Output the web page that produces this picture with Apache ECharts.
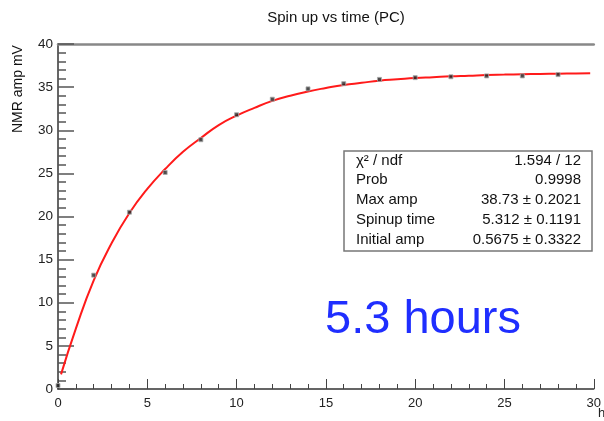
<!DOCTYPE html>
<html><head><meta charset="utf-8">
<script src="https://cdn.jsdelivr.net/npm/echarts@6/dist/echarts.min.js"></script>
<style>html,body{margin:0;padding:0;background:#fff}#c{width:604px;height:421px}</style>
</head><body><div id="c"></div>
<script>
// measured data points (time in hours, NMR amplitude in mV)
const timeHours = [0, 2, 4, 6, 8, 10, 12, 14, 16, 18, 20, 22, 24, 26, 28];
const amplitude = [0.4, 13.2, 20.5, 25.1, 28.9, 31.8, 33.6, 34.8, 35.4, 35.9, 36.1, 36.2, 36.3, 36.3, 36.45];
// fit curve
const fitTime = [0.17, 1, 2, 3, 4, 5, 6, 7, 8, 9, 10, 11, 12, 13, 14, 15, 16, 17, 18, 19, 20, 21, 22, 23, 24, 25, 26, 27, 28, 29, 29.8];
const fitAmp = [1.7, 7.0, 12.6, 16.9, 20.4, 23.2, 25.5, 27.5, 29.1, 30.6, 31.7, 32.6, 33.4, 34.0, 34.5, 34.9, 35.25, 35.5, 35.75, 35.9, 36.05, 36.15, 36.25, 36.32, 36.4, 36.45, 36.5, 36.53, 36.56, 36.58, 36.6];
const xTicks = [0, 5, 10, 15, 20, 25, 30];
const yTicks = [0, 5, 10, 15, 20, 25, 30, 35, 40];
const statLabels = ["χ² / ndf", "Prob", "Max amp", "Spinup time", "Initial amp"];
const statValues = ["1.594 / 12", "0.9998", "38.73 ± 0.2021", "5.312 ± 0.1191", "0.5675 ± 0.3322"];
const titleText = "Spin up vs time (PC)";
const yName = "NMR amp mV";
const xName = "h";
const noteText = "5.3 hours";

const font = "'Liberation Sans', Arial, sans-serif";
const chart = echarts.init(document.getElementById('c'), null, {renderer: 'canvas'});

const statGraphics = [];
statLabels.forEach((s, i) => {
  const y = 162 + i * 19.8;
  statGraphics.push({type: 'text', left: 356, top: y - 9, z: 20,
    style: {text: s, font: '15px ' + font, fill: '#111'}});
  statGraphics.push({type: 'text', right: 604 - 581, top: y - 9, z: 20,
    style: {text: statValues[i], font: '15px ' + font, fill: '#111', textAlign: 'right'}});
});

chart.setOption({
  animation: false,
  backgroundColor: '#fff',
  title: {text: titleText, left: 331, top: 5, textAlign: 'center',
    textStyle: {fontFamily: font, fontSize: 15, fontWeight: 'normal', color: '#111'}},
  grid: {left: 58, right: 10, top: 44, bottom: 32},
  xAxis: [{
    type: 'value', min: 0, max: 30, interval: 5, splitNumber: 6,
    axisLine: {lineStyle: {color: '#333', width: 1.5}},
    axisTick: {inside: true, length: 10, lineStyle: {color: '#444'}},
    minorTick: {show: true, splitNumber: 5, length: 5, lineStyle: {color: '#444'}},
    splitLine: {show: false},
    axisLabel: {fontFamily: font, fontSize: 13, color: '#222', margin: 8,
      formatter: v => xTicks.includes(v) ? String(v) : ''}
  }, {
    type: 'value', min: 0, max: 30, position: 'top',
    axisLine: {lineStyle: {color: '#888', width: 2.5}},
    axisTick: {show: false}, axisLabel: {show: false}, splitLine: {show: false}
  }],
  yAxis: {
    type: 'value', min: 0, max: 40, interval: 5,
    axisLine: {show: true, lineStyle: {color: '#333', width: 1.5}},
    axisTick: {inside: true, length: 16, lineStyle: {color: '#555', width: 1.5}},
    minorTick: {show: true, splitNumber: 5, length: 8, lineStyle: {color: '#555', width: 1.5}},
    splitLine: {show: false},
    axisLabel: {fontFamily: font, fontSize: 13.5, color: '#222', margin: 5,
      formatter: v => yTicks.includes(v) ? String(v) : ''}
  },
  series: [{
    type: 'line', data: fitTime.map((t, i) => [t, fitAmp[i]]), smooth: true,
    showSymbol: false, lineStyle: {color: '#ff1a1a', width: 2}, z: 3
  }, {
    type: 'scatter', data: timeHours.map((t, i) => [t, amplitude[i]]),
    symbol: 'rect', symbolSize: 4,
    itemStyle: {color: '#222', borderColor: '#aaa', borderWidth: 1}, z: 4
  }],
  graphic: [
    {type: 'text', x: 11, y: 133, rotation: Math.PI / 2,
      style: {text: yName, font: '14px ' + font, fill: '#111'}},
    {type: 'text', left: 598, top: 407,
      style: {text: xName, font: '13px ' + font, fill: '#222'}},
    {type: 'rect', shape: {x: 344, y: 151, width: 248, height: 100}, z: 10,
      style: {fill: '#fff', stroke: '#777', lineWidth: 1.5}},
    ...statGraphics,
    {type: 'text', left: 325, top: 297, z: 20,
      style: {text: noteText, font: '47px ' + font, fill: '#1f2eff'}}
  ]
});
</script></body></html>
